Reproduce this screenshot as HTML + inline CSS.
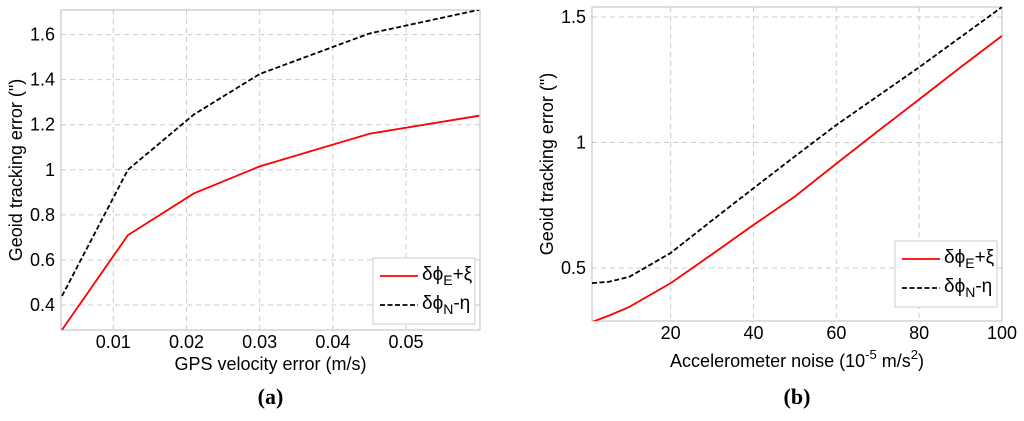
<!DOCTYPE html>
<html><head><meta charset="utf-8"><style>
body{margin:0;background:#fff;width:1024px;height:416px;overflow:hidden}
svg text{font-family:"Liberation Sans",sans-serif;fill:#000}
</style></head><body>
<svg id="s" width="1024" height="416" xmlns="http://www.w3.org/2000/svg"></svg>
<script>
const xA=[0.003,0.012,0.021,0.030,0.045,0.060];
const redA=[0.29,0.71,0.895,1.015,1.16,1.24];
const blkA=[0.44,1.0,1.245,1.425,1.605,1.71];
const xTicksA=[0.01,0.02,0.03,0.04,0.05];
const yTicksA=[0.4,0.6,0.8,1,1.2,1.4,1.6];
const xB=[1,5,10,20,30,40,50,60,70,80,90,100];
const redB=[0.285,0.31,0.345,0.44,0.555,0.672,0.785,0.916,1.045,1.172,1.3,1.425];
const blkB=[0.44,0.445,0.465,0.56,0.69,0.818,0.945,1.07,1.185,1.30,1.42,1.54];
const xTicksB=[20,40,60,80,100];
const yTicksB=[0.5,1,1.5];
const NS="http://www.w3.org/2000/svg";
const svg=document.getElementById('s');
function mk(t,a,p){const e=document.createElementNS(NS,t);for(const k in a)e.setAttribute(k,a[k]);(p||svg).appendChild(e);return e;}
function panel(o){
  const g=mk('g',{});
  
  
  const sx=v=>o.L+(v-o.x0)/(o.x1-o.x0)*(o.R-o.L);
  const sy=v=>o.B-(v-o.y0)/(o.y1-o.y0)*(o.B-o.T);
  o.xt.forEach((v,i)=>{const x=sx(v);
    const l=mk('line',{x1:x,x2:x,y1:o.T,y2:o.B,stroke:'#ccc','stroke-dasharray':'5,4'},g);
    
    const t=mk('text',{x:x,y:o.B+o.xtOff,'text-anchor':'middle','font-size':18},g);t.textContent=o.xl[i];
    });
  o.yt.forEach((v,i)=>{const y=sy(v);
    const l=mk('line',{x1:o.L,x2:o.R,y1:y,y2:y,stroke:'#ccc','stroke-dasharray':'5,4'},g);
    
    const t=mk('text',{x:o.L-6,y:y+6,'text-anchor':'end','font-size':18},g);t.textContent=o.yl[i];
    });
  const fr=mk('rect',{x:o.L,y:o.T,width:o.R-o.L,height:o.B-o.T,fill:'none',stroke:'#bbb'},g);
  
  const cp='c'+o.name;const cl=mk('clipPath',{id:cp},g);mk('rect',{x:o.L,y:o.T,width:o.R-o.L,height:o.B-o.T},cl);
  const pts=a=>o.xs.map((v,i)=>sx(v)+','+sy(a[i])).join(' ');
  const r=mk('polyline',{points:pts(o.red),fill:'none',stroke:'#f00','stroke-width':1.8,'clip-path':'url(#'+cp+')'},g);
  
  const b=mk('polyline',{points:pts(o.blk),fill:'none',stroke:'#000','stroke-width':1.8,'stroke-dasharray':'5,2.5','clip-path':'url(#'+cp+')'},g);
  
  const xt=mk('text',{x:(o.L+o.R)/2,y:o.B+o.xtitOff,'text-anchor':'middle','font-size':18},g);xt.innerHTML=o.xtitle;
  
  const yt=mk('text',{x:0,y:0,transform:`translate(${o.ytx},${(o.T+o.B)/2}) rotate(-90)`,'text-anchor':'middle','font-size':18},g);yt.textContent='Geoid tracking error (")';
  
  const lg=mk('g',{},g);
  const lx=o.lx,ly=o.ly;
  mk('rect',{x:lx,y:ly,width:102,height:66,fill:'#fff',stroke:'#ccc'},lg);
  mk('line',{x1:lx+7,x2:lx+45,y1:ly+18,y2:ly+18,stroke:'#f00','stroke-width':1.8},lg);
  mk('line',{x1:lx+7,x2:lx+45,y1:ly+47,y2:ly+47,stroke:'#000','stroke-width':1.8,'stroke-dasharray':'5,2.5'},lg);
  const t1=mk('text',{x:lx+49,y:ly+22,'font-size':19},lg);t1.innerHTML='δϕ<tspan font-size="14" dy="5">E</tspan><tspan dy="-5">+ξ</tspan>';
  
  const t2=mk('text',{x:lx+49,y:ly+51,'font-size':19},lg);t2.innerHTML='δϕ<tspan font-size="14" dy="5">N</tspan><tspan dy="-5">-η</tspan>';
  
  const pl=mk('text',{x:(o.L+o.R)/2,y:o.cap,'text-anchor':'middle','font-size':22,'font-weight':'bold'},g);
  pl.innerHTML='('+o.letter+')';pl.style.fontFamily='"Liberation Serif",serif';
  
}
panel({name:'panel-a',L:61,R:480,T:10,B:330,x0:0.00286,x1:0.0601,y0:0.289,y1:1.709,xs:xA,red:redA,blk:blkA,
  xt:xTicksA,xl:xTicksA.map(String),yt:yTicksA,yl:yTicksA.map(v=>String(v)),xtOff:18,xtitOff:40,
  xtitle:'GPS velocity error (m/s)',ytx:22,lx:373,ly:258,cap:404,letter:'a'});
panel({name:'panel-b',L:592,R:1002,T:7,B:321,x0:1,x1:100,y0:0.289,y1:1.54,xs:xB,red:redB,blk:blkB,
  xt:xTicksB,xl:xTicksB.map(String),yt:yTicksB,yl:yTicksB.map(v=>String(v)),xtOff:18,xtitOff:46,
  xtitle:'Accelerometer noise (10<tspan font-size="13" dy="-8">-5</tspan><tspan dy="8"> m/s</tspan><tspan font-size="13" dy="-8">2</tspan><tspan dy="8">)</tspan>',ytx:553,lx:895,ly:241,cap:404,letter:'b'});
</script>
</body></html>
